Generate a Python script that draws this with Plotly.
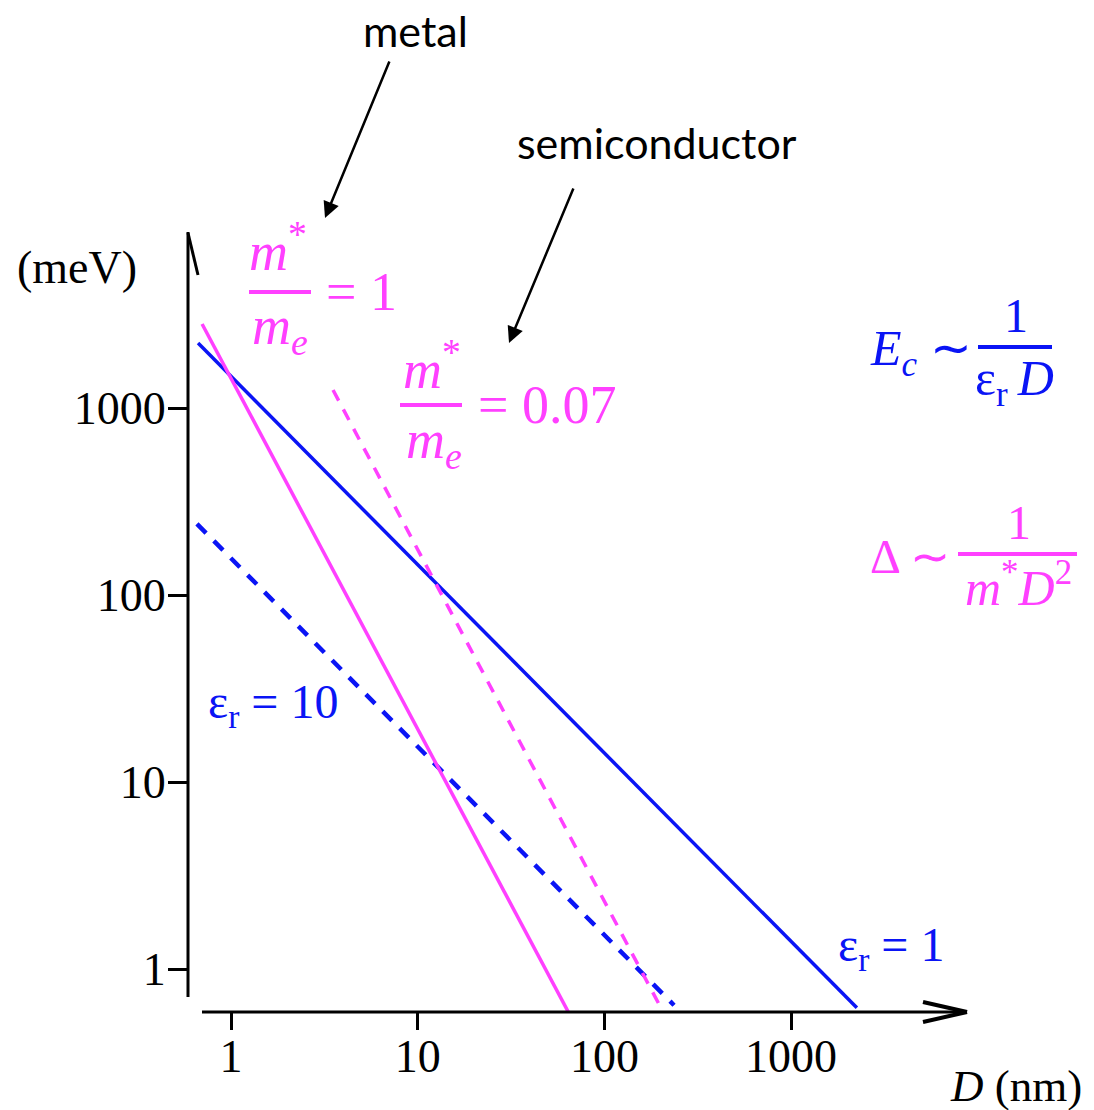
import plotly.graph_objects as go

# Characteristic energies vs. particle size D (log-log)
# Charging energy E_c ~ 1/(eps_r D) and level spacing Delta ~ 1/(m* D^2)
D_eps1 = [0.666, 2250]
E_eps1 = [2227, 0.62]
D_eps10 = [0.657, 236]
E_eps10 = [240, 0.64]
D_metal = [0.70, 64.6]
E_metal = [2812, 0.58]
D_semi = [3.52, 208]
E_semi = [1248, 0.58]

tick_vals = [1, 10, 100, 1000]
tick_text = ["1", "10", "100", "1000"]

BLUE = "#0A14F5"
MAGENTA = "#FF40FF"
SERIF = "Liberation Serif"
SANS = "Lato"

W, H = 1094, 1110
L, R, T, B = 188, 127, 232, 98
PW, PH = W - L - R, H - T - B
XRANGE = [-0.2303, 3.9421]
YRANGE = [-0.2299, 3.9412]


def px(x):
    return (x - L) / PW


def py(y):
    return (H - B - y) / PH


fig = go.Figure()
# Coulomb-energy lines on the labelled axes
fig.add_trace(go.Scatter(x=D_eps1, y=E_eps1, mode="lines",
                         line=dict(color=BLUE, width=3.5)))
fig.add_trace(go.Scatter(x=D_eps10, y=E_eps10, mode="lines",
                         line=dict(color=BLUE, width=4.5, dash="13px,11px")))
# level-spacing lines on the tick-mark axes (identical ranges)
fig.add_trace(go.Scatter(x=D_metal, y=E_metal, mode="lines",
                         xaxis="x2", yaxis="y2",
                         line=dict(color=MAGENTA, width=3.5)))
fig.add_trace(go.Scatter(x=D_semi, y=E_semi, mode="lines",
                         xaxis="x2", yaxis="y2",
                         line=dict(color=MAGENTA, width=3.5, dash="12px,10px")))

shapes = []


def seg(x0, y0, x1, y1, color="black", width=3):
    shapes.append(dict(type="line", xref="paper", yref="paper",
                       x0=px(x0), y0=py(y0), x1=px(x1), y1=py(y1),
                       line=dict(color=color, width=width)))


# axes with arrow tips
seg(188, 997, 188, 232)
seg(188, 233, 198, 275)
seg(202, 1012, 967, 1012)
seg(923, 1002, 967, 1012, width=4)
seg(923, 1022, 967, 1012, width=4)

# fraction bars
seg(249, 292, 311, 292, MAGENTA, 4)
seg(400, 405, 462, 405, MAGENTA, 4)
seg(978, 347, 1052, 347, BLUE, 4)
seg(958, 554, 1077, 554, MAGENTA, 4)

ann = []


def text(x, y, s, size, color="black", family=SERIF, xanchor="center"):
    ann.append(dict(x=px(x), y=py(y), xref="paper", yref="paper", text=s,
                    showarrow=False, xanchor=xanchor, yanchor="middle",
                    font=dict(size=size, color=color, family=family)))


def arrow(tail, tip):
    ann.append(dict(x=px(tip[0]), y=py(tip[1]), xref="paper", yref="paper",
                    ax=tail[0] - tip[0], ay=tail[1] - tip[1], text="",
                    showarrow=True, arrowhead=2, arrowsize=1.3,
                    arrowwidth=2.5, arrowcolor="black", standoff=0))


text(77, 268, "(meV)", 46)
text(1016, 1086, "<i>D</i> (nm)", 45)
text(415, 30, "metal", 43, family=SANS)
text(657, 143, "semiconductor", 43, family=SANS)
arrow((390, 60), (325, 218))
arrow((574, 187), (509, 343))

# m*/m_e = 1
text(278, 247, "<i>m</i><sup>*</sup>", 54, MAGENTA)
text(280, 329, "<i>m</i><sub><i>e</i></sub>", 54, MAGENTA)
text(324, 292, "= 1", 54, MAGENTA, xanchor="left")
# m*/m_e = 0.07
text(432, 365, "<i>m</i><sup>*</sup>", 54, MAGENTA)
text(434, 443, "<i>m</i><sub><i>e</i></sub>", 54, MAGENTA)
text(476, 405, "= 0.07", 54, MAGENTA, xanchor="left")

# E_c ~ 1/(eps_r D)
text(868, 352, "<i>E</i><sub><i>c</i></sub> ∼", 50, BLUE, xanchor="left")
text(1016, 316, "1", 48, BLUE)
text(1015, 382, "ε<sub>r</sub>&#8201;<i>D</i>", 50, BLUE)
# Delta ~ 1/(m* D^2)
text(868, 556, "Δ ∼", 48, MAGENTA, xanchor="left")
text(1019, 522, "1", 48, MAGENTA)
text(1018, 584, "<i>m</i><sup>*</sup><i>D</i><sup>2</sup>", 50, MAGENTA)

# dielectric constant labels
text(206, 705, "ε<sub>r</sub> = 10", 48, BLUE, xanchor="left")
text(836, 948, "ε<sub>r</sub> = 1", 48, BLUE, xanchor="left")

tick_font = dict(family=SERIF, size=46, color="black")
common = dict(showline=False, showgrid=False, zeroline=False)

fig.update_layout(
    width=W, height=H,
    margin=dict(l=L, r=R, t=T, b=B),
    paper_bgcolor="white", plot_bgcolor="white",
    showlegend=False,
    shapes=shapes, annotations=ann,
    # labelled axes (tick marks transparent, only set the label offset)
    xaxis=dict(type="log", range=XRANGE, tickvals=tick_vals,
               ticktext=tick_text, ticks="outside", ticklen=4,
               tickcolor="rgba(0,0,0,0)", tickfont=tick_font, **common),
    yaxis=dict(type="log", range=YRANGE, tickvals=tick_vals,
               ticktext=tick_text, ticks="outside", ticklen=12,
               tickcolor="rgba(0,0,0,0)", tickfont=tick_font, **common),
    # overlay axes that draw the visible tick marks
    xaxis2=dict(type="log", range=XRANGE, overlaying="x", side="bottom",
                anchor="y2", tickvals=tick_vals, showticklabels=False,
                ticks="outside", ticklen=17, tickwidth=3,
                tickcolor="black", **common),
    yaxis2=dict(type="log", range=YRANGE, overlaying="y", side="left",
                anchor="x2", tickvals=tick_vals, showticklabels=False,
                ticks="outside", ticklen=19, tickwidth=3,
                tickcolor="black", **common),
)

fig.write_html("out.html")
